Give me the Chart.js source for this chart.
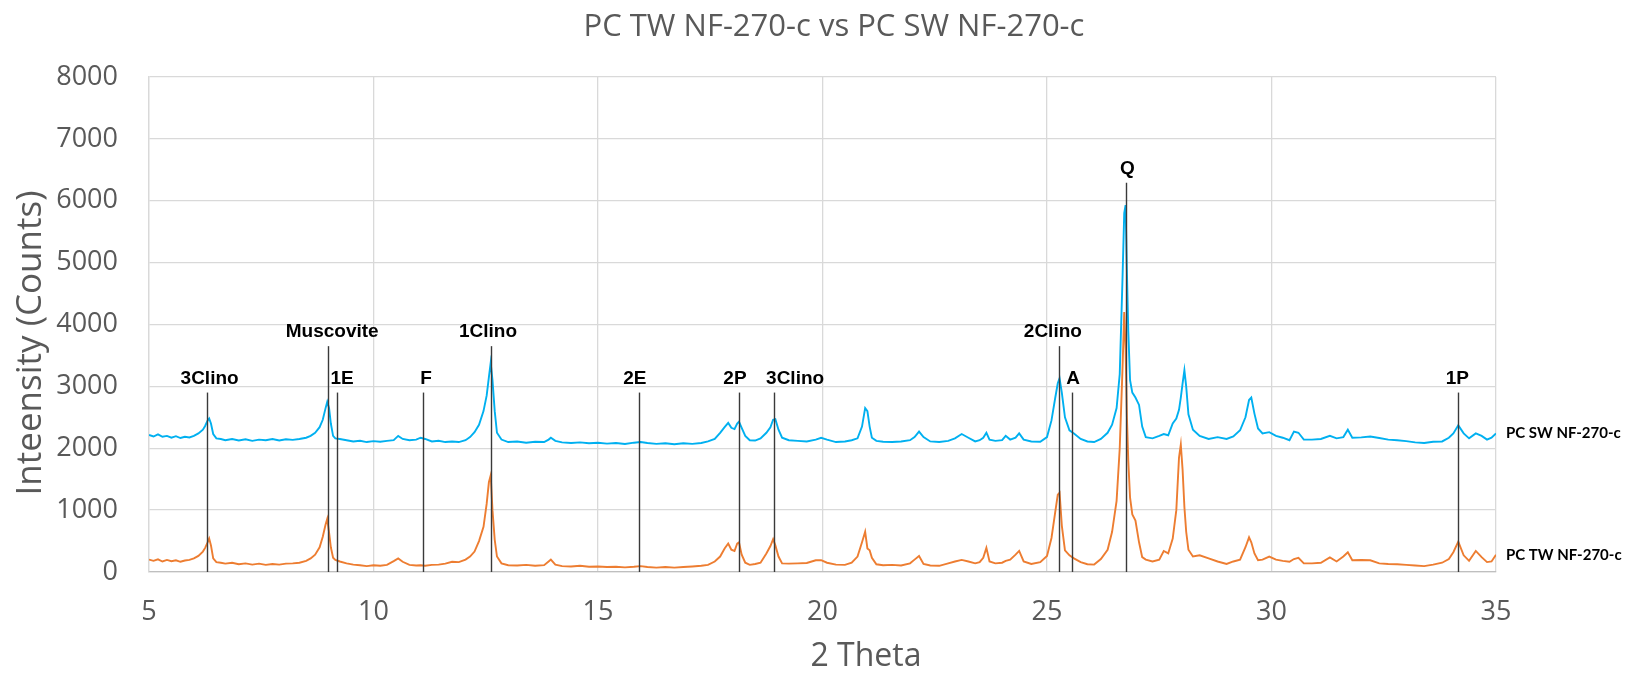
<!DOCTYPE html>
<html>
<head>
<meta charset="utf-8">
<script src="https://cdn.jsdelivr.net/npm/chart.js@4.4.1/dist/chart.umd.min.js"></script>
<style>
  html, body { margin: 0; padding: 0; background: #fff; }
  #wrap { width: 1634px; height: 678px; }
</style>
</head>
<body>
<div id="wrap"><canvas id="xrdChart" width="1634" height="678"></canvas></div>
<script>
// 2 theta grid shared by both scans
var theta = [
  5.0, 5.1, 5.2, 5.3, 5.4, 5.5, 5.6, 5.7, 5.8, 5.9, 6.0, 6.1, 6.2, 6.25, 6.3, 6.34, 6.38, 6.43, 6.5, 6.6,
  6.7, 6.85, 7.0, 7.15, 7.3, 7.45, 7.6, 7.75, 7.9, 8.05, 8.2, 8.35,
  8.5, 8.6, 8.7, 8.8, 8.87, 8.93, 8.97, 9.01, 9.05, 9.1, 9.15, 9.25, 9.4, 9.55, 9.7, 9.85, 10.0, 10.15, 10.3, 10.45, 10.55, 10.65, 10.8, 10.95, 11.05, 11.15, 11.3, 11.45, 11.6, 11.75, 11.9,
  12.05, 12.15, 12.25, 12.35, 12.45, 12.52, 12.57, 12.61, 12.65, 12.7, 12.75, 12.85,
  13.0, 13.2, 13.4, 13.6, 13.8, 13.9, 13.95, 14.05, 14.2, 14.4, 14.6, 14.8, 15.0, 15.2, 15.4, 15.6, 15.8, 15.95, 16.1, 16.3, 16.5, 16.7, 16.9, 17.1, 17.3, 17.45,
  17.6, 17.72, 17.82, 17.9, 17.97, 18.04, 18.1, 18.14, 18.2, 18.28, 18.38, 18.5, 18.62, 18.75, 18.84, 18.9, 18.95, 19.02, 19.1, 19.25, 19.45, 19.65, 19.85, 19.97, 20.1, 20.3, 20.5,
  20.65, 20.78, 20.88, 20.95, 21.0, 21.05, 21.1, 21.2, 21.35, 21.55, 21.75, 21.95, 22.05, 22.15, 22.25, 22.4, 22.6, 22.8, 22.95, 23.1, 23.25, 23.4, 23.5, 23.58, 23.65, 23.72, 23.85, 24.0, 24.08, 24.18, 24.3, 24.38, 24.48, 24.65, 24.85,
  25.0, 25.1, 25.18, 25.24, 25.28, 25.33, 25.4, 25.5, 25.6, 25.75, 25.9, 26.05,
  26.2, 26.35, 26.45, 26.55, 26.62, 26.68, 26.72, 26.75, 26.78, 26.81, 26.85, 26.9, 26.97, 27.05, 27.12, 27.2, 27.35,
  27.5, 27.6, 27.7, 27.8, 27.88, 27.94, 27.98, 28.02, 28.06, 28.1, 28.15, 28.25,
  28.4, 28.6, 28.8, 29.0, 29.15, 29.3, 29.42, 29.5, 29.55, 29.62, 29.7, 29.8, 29.95, 30.1, 30.25, 30.4, 30.5, 30.6, 30.72, 30.9, 31.1, 31.3, 31.45, 31.6, 31.7, 31.8, 32.0, 32.2, 32.4, 32.6, 32.8, 33.0, 33.2, 33.4, 33.6, 33.8, 33.95, 34.05, 34.16, 34.28, 34.4, 34.55, 34.68, 34.8, 34.9, 35.0
];

// PC SW NF-270-c (upper, blue)
var countsSW = [
  2215, 2190, 2225, 2185, 2200, 2170, 2195, 2165, 2185, 2175, 2200, 2240, 2300, 2360, 2440, 2480, 2400, 2230, 2160, 2150,
  2130, 2150, 2125, 2145, 2120, 2140, 2130, 2150, 2125, 2145, 2135, 2150,
  2170, 2200, 2250, 2340, 2460, 2640, 2750, 2650, 2400, 2200, 2160, 2150, 2130, 2110, 2120, 2100, 2115, 2105, 2120, 2130, 2200, 2150, 2130, 2140, 2170, 2150, 2110, 2120, 2100, 2110, 2100,
  2130, 2180, 2260, 2380, 2600, 2850, 3150, 3380, 3100, 2600, 2250, 2140,
  2100, 2110, 2090, 2105, 2100, 2140, 2170, 2120, 2095, 2085, 2095, 2080, 2090, 2075, 2085, 2070, 2090, 2100, 2085, 2070, 2080, 2065, 2080, 2070, 2085, 2110,
  2150, 2250, 2340, 2410, 2330, 2310, 2400, 2430, 2330, 2200, 2130, 2125, 2160, 2250, 2340, 2460, 2470, 2300, 2170, 2130, 2120, 2110, 2140, 2170, 2140, 2100, 2110,
  2130, 2160, 2350, 2650, 2600, 2350, 2170, 2120, 2105, 2100, 2110, 2130, 2180, 2270, 2180, 2110, 2100, 2120, 2160, 2230, 2170, 2110, 2130, 2170, 2250, 2140, 2120, 2130, 2200, 2140, 2170, 2240, 2140, 2110, 2105,
  2180, 2450, 2800, 3050, 3130, 2900, 2500, 2290, 2240, 2150, 2110, 2100,
  2150, 2250, 2380, 2650, 3200, 4700, 5800, 5930, 4850, 3900, 3100, 2900, 2820, 2700, 2350, 2180, 2160,
  2200, 2230, 2210, 2400, 2480, 2620, 2820, 3050, 3260, 3000, 2550, 2300,
  2200, 2150, 2180, 2150, 2190, 2290, 2500, 2780, 2820, 2560, 2320, 2240, 2260, 2200, 2170, 2130, 2270, 2250, 2140, 2140, 2150, 2200, 2160, 2180, 2300, 2170, 2175, 2190, 2165, 2140, 2130, 2115, 2095, 2085, 2105, 2110, 2170, 2240, 2370, 2240, 2160, 2240, 2200, 2140, 2170, 2240
];

// PC TW NF-270-c (lower, orange)
var countsTW = [
  200, 180, 205, 170, 195, 175, 190, 165, 185, 195, 220, 260, 330, 390, 470, 540, 430, 220, 160, 150,
  135, 150, 125, 140, 120, 135, 115, 130, 120, 135, 140, 150,
  180, 220, 280, 400, 570, 760, 860, 640, 400, 230, 195, 170, 140, 120, 110, 95, 110, 100, 115, 175, 220, 165, 115, 105, 110, 100, 115, 120, 135, 165, 160,
  200, 250, 330, 500, 730, 1100, 1450, 1560, 1000, 520, 250, 140,
  110, 105, 115, 100, 110, 170, 200, 120, 95, 90, 100, 85, 90, 80, 85, 75, 85, 95, 80, 70, 80, 70, 80, 90, 100, 115,
  170, 250, 380, 460, 360, 340, 460, 480, 280, 150, 115, 130, 150, 300, 420, 530, 430, 250, 140, 135, 140, 145, 190, 190, 150, 120, 115,
  150, 250, 480, 650, 380, 350, 230, 125, 110, 115, 105, 140, 200, 260, 130, 105, 100, 140, 170, 195, 170, 140, 160, 230, 390, 170, 140, 150, 180, 200, 280, 340, 170, 130, 160,
  260, 550, 950, 1250, 1280, 750, 350, 270, 220, 160, 125, 120,
  210, 360, 650, 1150, 2000, 3250, 4200, 3600, 2500, 1800, 1200, 930, 830, 480, 240, 200, 170,
  200, 340, 300, 540, 1000, 1850, 2060, 1650, 1050, 650, 360, 250,
  270, 220, 170, 130, 170, 200, 400, 560, 480, 300, 190, 200, 250, 200, 180, 165, 210, 230, 140, 140, 150, 235, 170, 250, 320, 190, 195, 190, 140, 130, 125, 115, 105, 95, 120, 150, 210, 320, 490, 270, 180, 340, 240, 160, 170, 280
];

// phase reference lines
var markerNames = ['3Clino', 'Muscovite', '1E', 'F', '1Clino', '2E', '2P', '3Clino', '2Clino', 'A', 'Q', '1P'];
var markerTheta = [6.30, 8.98, 9.18, 11.11, 12.62, 15.92, 18.15, 18.92, 25.27, 25.55, 26.76, 34.15];
var markerTop = [2900, 3650, 2900, 2900, 3650, 2900, 2900, 2900, 3650, 2900, 6290, 2900];
var labelTheta = [6.35, 9.08, 9.30, 11.17, 12.55, 15.82, 18.05, 19.39, 25.13, 25.58, 26.79, 34.14];

var chartTitle = 'PC TW NF-270-c vs PC SW NF-270-c';
var yTitle = 'Inteensity (Counts)';
var xTitle = '2 Theta';
var textGrey = '#595959';

function toPoints(counts) {
  return theta.map(function (t, i) { return { x: t, y: counts[i] }; });
}

var markerPlugin = {
  id: 'phaseMarkers',
  afterDatasetsDraw: function (chart) {
    var ctx = chart.ctx;
    var xs = chart.scales.x;
    var ys = chart.scales.y;
    var y0 = ys.getPixelForValue(0);
    ctx.save();
    ctx.strokeStyle = '#3a3a3a';
    ctx.lineWidth = 1.4;
    markerTheta.forEach(function (t, i) {
      var px = Math.round(xs.getPixelForValue(t)) + 0.5;
      ctx.beginPath();
      ctx.moveTo(px, y0);
      ctx.lineTo(px, ys.getPixelForValue(markerTop[i]));
      ctx.stroke();
    });
    ctx.fillStyle = '#000';
    ctx.font = 'bold 19px "Liberation Sans", Arial, sans-serif';
    ctx.textAlign = 'center';
    ctx.textBaseline = 'alphabetic';
    markerNames.forEach(function (name, i) {
      ctx.fillText(name, xs.getPixelForValue(labelTheta[i]), ys.getPixelForValue(markerTop[i]) - 9);
    });
    // sample names next to the last point of each scan
    ctx.font = 'bold 15px Lato, sans-serif';
    ctx.textAlign = 'left';
    ctx.textBaseline = 'middle';
    chart.data.datasets.forEach(function (ds, i) {
      var pts = chart.getDatasetMeta(i).data;
      var last = pts[pts.length - 1];
      ctx.fillText(ds.label, last.x + 10, last.y);
    });
    ctx.restore();
  },
  afterDraw: function (chart) {
    // titles were nudged off-centre in the original, so they are placed by hand
    var ctx = chart.ctx;
    ctx.save();
    ctx.fillStyle = textGrey;
    ctx.textAlign = 'center';
    ctx.textBaseline = 'middle';
    ctx.font = '31px "Open Sans"';
    ctx.fillText(chartTitle, 834, 27);
    ctx.font = '32px "Open Sans"';
    ctx.fillText(xTitle, 866, 657);
    ctx.translate(31, 343);
    ctx.rotate(-Math.PI / 2);
    ctx.font = '35px "Open Sans"';
    ctx.fillText(yTitle, 0, 0);
    ctx.restore();
  }
};

var config = {
  type: 'line',
  data: {
    datasets: [
      {
        label: 'PC TW NF-270-c',
        data: toPoints(countsTW),
        borderColor: '#ED7D31',
        borderWidth: 1.9,
        pointRadius: 0,
        tension: 0,
        order: 0
      },
      {
        label: 'PC SW NF-270-c',
        data: toPoints(countsSW),
        borderColor: '#00B0F0',
        borderWidth: 1.9,
        pointRadius: 0,
        tension: 0,
        order: 1
      }
    ]
  },
  options: {
    responsive: false,
    animation: false,
    layout: { padding: { left: 0, right: 138, top: 77, bottom: 0 } },
    plugins: {
      legend: { display: false },
      tooltip: { enabled: false },
      title: { display: false }
    },
    scales: {
      x: {
        type: 'linear',
        min: 5,
        max: 35,
        ticks: { stepSize: 5, padding: 24, color: textGrey, font: { family: '"Open Sans"', size: 27 } },
        grid: { color: '#D9D9D9', lineWidth: 1.3, drawTicks: false },
        border: { color: '#BFBFBF', width: 1.3 },
        afterFit: function (scale) { scale.height = 106; }
      },
      y: {
        min: 0,
        max: 8000,
        ticks: {
          stepSize: 1000,
          padding: 31,
          color: textGrey,
          font: { family: '"Open Sans"', size: 27 },
          callback: function (v) { return String(v); }
        },
        grid: { color: '#D9D9D9', lineWidth: 1.3, drawTicks: false },
        border: { color: '#D9D9D9', width: 1.3 },
        afterFit: function (scale) { scale.width = 149; }
      }
    }
  },
  plugins: [markerPlugin]
};

var myChart = new Chart(document.getElementById('xrdChart'), config);
</script>
</body>
</html>
